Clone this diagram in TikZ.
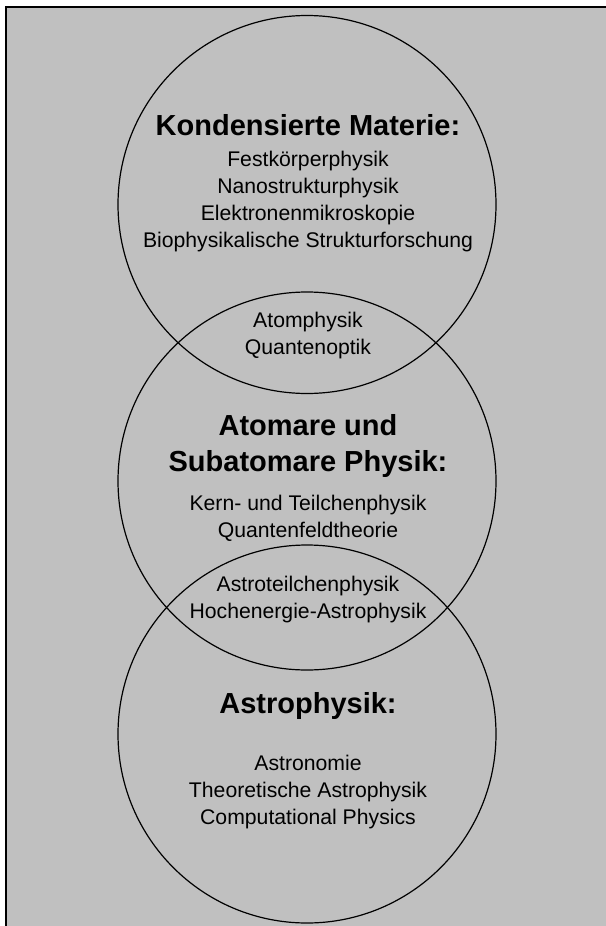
\documentclass[tikz,border=0pt]{standalone}
\usepackage{fontspec}
\setmainfont{Liberation Sans}
\usepackage{tikz}
\usetikzlibrary{shapes.geometric, calc, positioning}
\definecolor{panelgray}{RGB}{192,192,192}
\tikzstyle{field} = [circle, line width=1.2pt, draw=black, minimum size=378pt, inner sep=0pt]
\tikzstyle{heading} = [align=center, font=\fontsize{29}{36.7}\selectfont\bfseries, anchor=base]
\tikzstyle{topics} = [align=center, font=\fontsize{21.2}{27}\selectfont, anchor=base]
\tikzstyle{frame} = [line width=1.4pt, draw=black]
\begin{document}
\begin{tikzpicture}[x=1pt, y=1pt, node distance = 10mm]
	\useasboundingbox (0,0) rectangle (605,-926);
	\fill [panelgray] (6,-7) rectangle (610,-930);
	\draw [frame] (6,-930) |- (610,-7);
	\node (Kondensiert) [field] at (307,-204.5) {};
	\node (Atomar) [field] at (307,-481) {};
	\node (Astro) [field] at (307,-734) {};
	\node (KondTitle) [heading] at (308,-135) {Kondensierte Materie:};
	\node (KondList) [topics, below = 112pt of KondTitle.base, anchor=base] {Festkörperphysik\\Nanostrukturphysik\\Elektronenmikroskopie\\Biophysikalische Strukturforschung};
	\node (KondAtom) [topics] at (308,-354) {Atomphysik\\Quantenoptik};
	\node (AtomTitle) [heading] at (308,-471.7) {Atomare und\\Subatomare Physik:};
	\node (AtomList) [topics, below = 65.3pt of AtomTitle.base, anchor=base] {Kern- und Teilchenphysik\\Quantenfeldtheorie};
	\node (AtomAstro) [topics] at (308,-618) {Astroteilchenphysik\\Hochenergie-Astrophysik};
	\node (AstroTitle) [heading] at (308,-713) {Astrophysik:};
	\node (AstroList) [topics, below = 111pt of AstroTitle.base, anchor=base] {Astronomie\\Theoretische Astrophysik\\Computational Physics};
\end{tikzpicture}
\end{document}
